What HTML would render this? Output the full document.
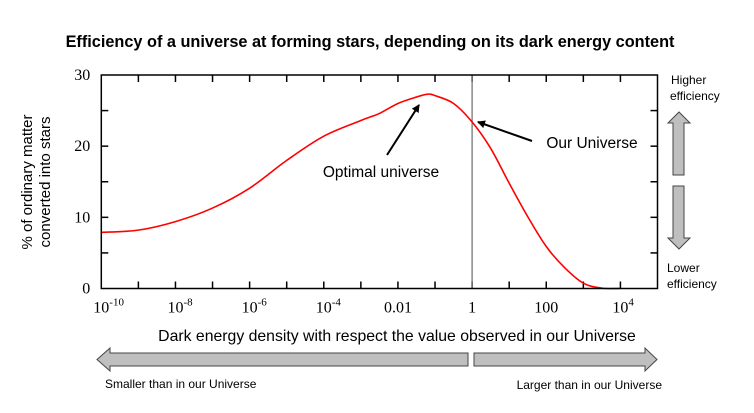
<!DOCTYPE html>
<html><head><meta charset="utf-8"><style>
html,body{margin:0;padding:0;background:#fff;}
svg{display:block;}
text{font-family:"Liberation Sans",sans-serif;fill:#000;}
.tk{font-family:"Liberation Serif",serif;font-size:16px;}
</style></head><body>
<svg id="chart" width="754" height="413" viewBox="0 0 754 413" xmlns="http://www.w3.org/2000/svg">
<text x="370" y="47" text-anchor="middle" font-size="16.3" font-weight="bold">Efficiency of a universe at forming stars, depending on its dark energy content</text>
<g transform="translate(0,182) rotate(-90)" font-size="15">
<text x="0" y="32" text-anchor="middle">% of ordinary  matter</text>
<text x="0" y="50" text-anchor="middle">converted into stars</text>
</g>
<g id="plot"></g>
<text x="397" y="341" text-anchor="middle" font-size="15.8">Dark energy density with respect the value observed in our Universe</text>
<polygon points="97,359.5 110,348 110,353 468,353 468,366 110,366 110,371" fill="#bfbfbf" stroke="#444" stroke-width="1"/>
<polygon points="474,353 645,353 645,348 657,359.5 645,371 645,366 474,366" fill="#bfbfbf" stroke="#444" stroke-width="1"/>
<text x="105" y="388" font-size="12">Smaller than in our Universe</text>
<text x="662" y="389" text-anchor="end" font-size="12">Larger than in our Universe</text>
<text x="671" y="84" font-size="12">Higher</text>
<text x="670" y="100" font-size="12">efficiency</text>
<polygon points="668,123 679,112 690,123 684,123 684,175 673,175 673,123" fill="#bfbfbf" stroke="#444" stroke-width="1"/>
<polygon points="673,186 684,186 684,238 690,238 679,249 668,238 673,238" fill="#bfbfbf" stroke="#444" stroke-width="1"/>
<text x="667" y="272" font-size="12">Lower</text>
<text x="667" y="288" font-size="12">efficiency</text>
</svg>
<script>
const logX = [-10,-9,-8,-7,-6,-5,-4,-3,-2.5,-2,-1.5,-1.2,-1,-0.5,0,0.5,1,1.5,2,2.5,3,3.5,4];
const pct = [7.9,8.2,9.4,11.3,14.1,18.0,21.4,23.6,24.6,26.0,26.9,27.3,27.1,26.0,23.4,19.7,14.8,10.1,5.9,2.9,0.75,0.05,0];
const xTickExp = [-10,-8,-6,-4,-2,0,2,4];
const xTickText = ["10","10","10","10","0.01","1","100","10"];
const xTickSup = ["-10","-8","-6","-4","","","","4"];
const yTicks = [0,10,20,30];

const L=101.3,R=657.5,T=75,B=288.5,X0=-10,X1=5,Y0=0,Y1=30;
const sx=v=>L+(v-X0)/(X1-X0)*(R-L);
const sy=v=>B-(v-Y0)/(Y1-Y0)*(B-T);
const NS="http://www.w3.org/2000/svg";
const g=document.getElementById('plot');
function mk(tag,attrs){const e=document.createElementNS(NS,tag);for(const k in attrs)e.setAttribute(k,attrs[k]);g.appendChild(e);return e;}

for(let d=X0+1;d<X1;d++){
  const t=mk('line',{x1:sx(d),x2:sx(d),y1:B,y2:B-7,stroke:'#000','stroke-width':1.5});
  
  
  const t2=mk('line',{x1:sx(d),x2:sx(d),y1:T,y2:T+7,stroke:'#000','stroke-width':1.5});
  
  
}
for(let v=5;v<30;v+=5){
  const t=mk('line',{x1:L,x2:L+7,y1:sy(v),y2:sy(v),stroke:'#000','stroke-width':1.5});
  
  
  const t2=mk('line',{x1:R,x2:R-7,y1:sy(v),y2:sy(v),stroke:'#000','stroke-width':1.5});
  
  
}
yTicks.forEach(v=>{
  const t=mk('text',{x:L-11,y:sy(v)+5,'text-anchor':'end',class:'tk'});
  
  
  t.textContent=v;
});
xTickExp.forEach((e,i)=>{
  const t=mk('text',{x:sx(e)+(xTickSup[i]?-4:0),y:B+24,'text-anchor':xTickSup[i]?'middle':'middle',class:'tk'});
  
  
  t.textContent=xTickText[i];
  if(xTickSup[i]){
    t.setAttribute('x',sx(e)-8);
    t.setAttribute('text-anchor','start');
    const s=document.createElementNS(NS,'tspan');s.setAttribute('dy','-7');s.setAttribute('font-size','11');s.textContent=xTickSup[i];t.appendChild(s);
  }
});
const vl=mk('line',{x1:sx(0),x2:sx(0),y1:T,y2:B,stroke:'#777','stroke-width':1.3});


const pts=logX.map((x,i)=>[sx(x),sy(pct[i])]);
let d='M'+pts[0][0]+','+pts[0][1];
for(let i=0;i<pts.length-1;i++){
  const p0=pts[Math.max(0,i-1)],p1=pts[i],p2=pts[i+1],p3=pts[Math.min(pts.length-1,i+2)];
  d+=' C'+(p1[0]+(p2[0]-p0[0])/6)+','+(p1[1]+(p2[1]-p0[1])/6)+' '+(p2[0]-(p3[0]-p1[0])/6)+','+(p2[1]-(p3[1]-p1[1])/6)+' '+p2[0]+','+p2[1];
}
const c=mk('path',{d:d,fill:'none',stroke:'#ff0000','stroke-width':1.6});


const fr=mk('rect',{x:L,y:T,width:R-L,height:B-T,fill:'none',stroke:'#000','stroke-width':1.5});


const defs=mk('defs',{});


defs.innerHTML='<marker id="ah" markerWidth="8" markerHeight="8" refX="7" refY="4" orient="auto" markerUnits="userSpaceOnUse"><path d="M0,0 L8,4 L0,8 z" fill="#000"/></marker>';
const a1=mk('line',{x1:387,y1:155,x2:419,y2:105,stroke:'#000','stroke-width':2,'marker-end':'url(#ah)'});


const a2=mk('line',{x1:532,y1:141,x2:478,y2:122,stroke:'#000','stroke-width':2,'marker-end':'url(#ah)'});


const t1=mk('text',{x:381,y:177,'text-anchor':'middle','font-size':15.5});


t1.textContent='Optimal universe';
const t2=mk('text',{x:592,y:148,'text-anchor':'middle','font-size':15.5});


t2.textContent='Our Universe';
</script>
</body></html>
